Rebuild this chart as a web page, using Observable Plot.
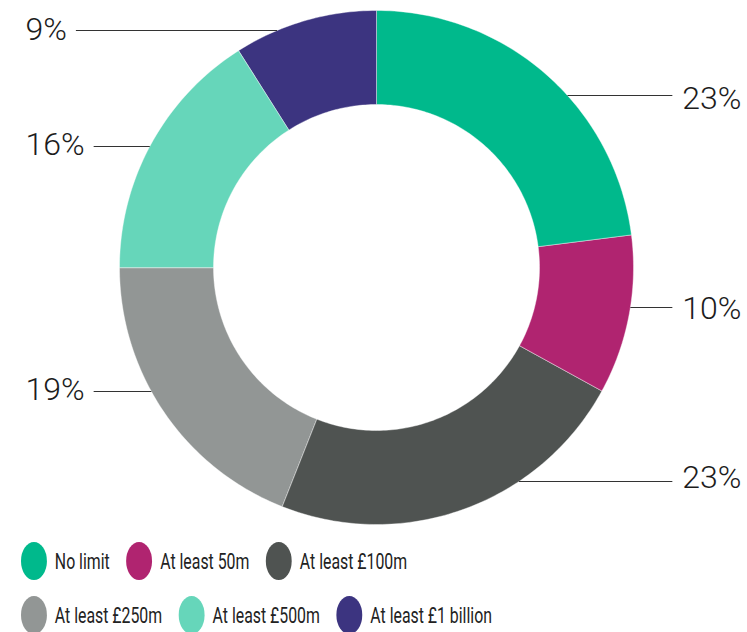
<!DOCTYPE html>
<html><head><meta charset="utf-8">
<script src="https://cdn.jsdelivr.net/npm/d3@7"></script>
<script src="https://cdn.jsdelivr.net/npm/@observablehq/plot@0.6"></script>
<style>
html,body{margin:0;padding:0;background:#fff;overflow:hidden;}
#chart svg{display:block;}
#legend{padding-left:21px;margin-top:12px;}
#legend .row{transform:scaleX(0.72);transform-origin:0 0;width:1000px;}
#legend .row + .row{margin-top:16px;}
#legend .row > div{font-family:Roboto,sans-serif !important;font-size:22px !important;color:#222 !important;margin:0 !important;min-height:38px !important;height:38px;display:flex;align-items:center;flex-wrap:nowrap !important;}
#legend .row > div > span{margin-right:1.05em !important;display:inline-flex;align-items:center;}
#legend .row > div > span > svg{margin-right:11px !important;}
#legend .row rect{rx:50%;ry:50%;}
</style></head><body>
<div id="chart"></div><div id="legend"><div class="row" id="r1"></div><div class="row" id="r2"></div></div>
<script>
// ---- data ----
const categories = ["No limit", "At least 50m", "At least £100m", "At least £250m", "At least £500m", "At least £1 billion"];
const shares = [23, 10, 23, 19, 16, 9];
const labels = ["23%", "10%", "23%", "19%", "16%", "9%"];
const colors = ["#00b98c", "#b02470", "#4f5351", "#929695", "#66d6ba", "#3c3480"];

// ---- layout ----
const W = 747, H = 530, cx = 376, cy = 267, R = 257, r0 = 163;
const lineY = [95, 307, 481, 391, 146, 30];
const textY = [98, 308, 477, 389, 144, 29];
const side = ["right", "right", "right", "left", "left", "left"];
const labelFont = {size: 32, weight: 300, family: "Roboto"};
const rightEdge = 741, leftEdge = 25;

// slice geometry from shares
const total = d3.sum(shares);
const slicePts = [];
let acc = 0;
categories.forEach((cat, i) => {
  const a0 = acc / total * 2 * Math.PI;
  acc += shares[i];
  const a1 = acc / total * 2 * Math.PI;
  const n = Math.max(8, Math.ceil((a1 - a0) / (Math.PI / 180)));
  for (let k = 0; k <= n; k++) {
    const a = a0 + (a1 - a0) * k / n;
    slicePts.push({cat, x: cx + R * Math.sin(a), y: cy - R * Math.cos(a)});
  }
  for (let k = n; k >= 0; k--) {
    const a = a0 + (a1 - a0) * k / n;
    slicePts.push({cat, x: cx + r0 * Math.sin(a), y: cy - r0 * Math.cos(a)});
  }
});

// label + leader geometry
const ctx = document.createElement("canvas").getContext("2d");
ctx.font = `${labelFont.weight} ${labelFont.size}px ${labelFont.family}`;
const labelData = labels.map((t, i) => {
  const w = ctx.measureText(t).width;
  const dy = lineY[i] - cy;
  const dx = Math.sqrt(Math.max(0, R * R - dy * dy));
  const right = side[i] === "right";
  return {
    text: t, side: side[i], ty: textY[i], y: lineY[i],
    tx: right ? rightEdge : leftEdge,
    x1: right ? cx + dx : cx - dx,
    x2: right ? rightEdge - w - 10 : leftEdge + w + 9
  };
});

const chart = Plot.plot({
  width: W, height: H, margin: 0,
  x: {domain: [0, W], range: [0, W], axis: null},
  y: {domain: [0, H], range: [0, H], axis: null},
  color: {domain: categories, range: colors},
  style: {background: "#fff", overflow: "visible"},
  marks: [
    Plot.line(slicePts, {x: "x", y: "y", z: "cat", fill: "cat", stroke: "#fff", strokeWidth: 0.4, curve: "linear-closed"}),
    Plot.link(labelData, {x1: "x1", y1: "y", x2: "x2", y2: "y", stroke: "#333", strokeWidth: 1}),
    Plot.text(labelData.filter(d => d.side === "right"), {x: "tx", y: "ty", text: "text", textAnchor: "end", lineAnchor: "middle", fontSize: labelFont.size, fontWeight: labelFont.weight, fontFamily: labelFont.family, fill: "#1c1c1c"}),
    Plot.text(labelData.filter(d => d.side === "left"), {x: "tx", y: "ty", text: "text", textAnchor: "start", lineAnchor: "middle", fontSize: labelFont.size, fontWeight: labelFont.weight, fontFamily: labelFont.family, fill: "#1c1c1c"})
  ]
});
document.getElementById("chart").appendChild(chart);

function legendRow(idx) {
  return Plot.legend({
    legend: "swatches",
    color: {domain: idx.map(i => categories[i]), range: idx.map(i => colors[i]), legend: "swatches"},
    swatchWidth: 36, swatchHeight: 38, className: "lg"
  });
}
document.getElementById("r1").appendChild(legendRow([0, 1, 2]));
document.getElementById("r2").appendChild(legendRow([3, 4, 5]));
</script>
</body></html>
